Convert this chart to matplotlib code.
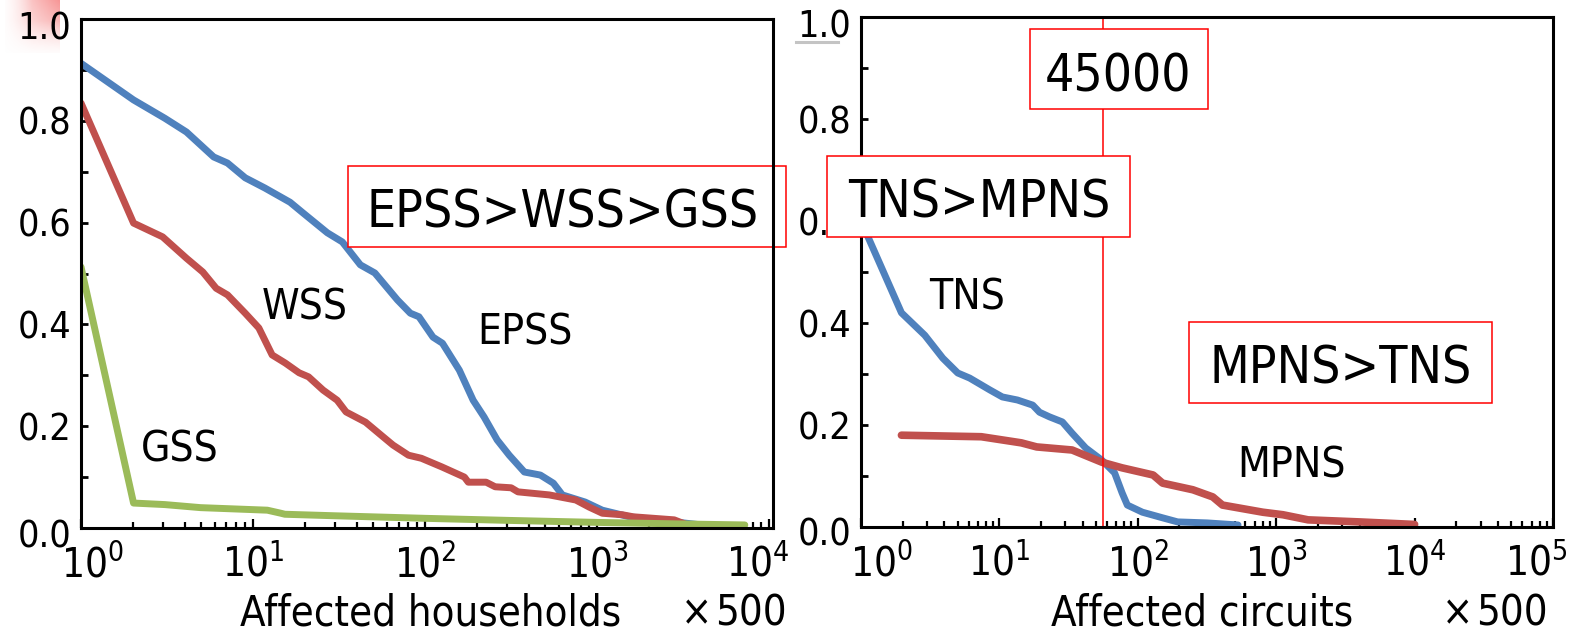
import numpy as np
import matplotlib
matplotlib.use("Agg")
import matplotlib.pyplot as plt
import matplotlib.transforms as mtrans
from matplotlib import font_manager as fm
from matplotlib.patches import Rectangle
from matplotlib.lines import Line2D
from matplotlib.ticker import LogLocator, NullFormatter, FixedLocator

# ---------------- data ----------------
epss_x = [1, 2.02, 3.07, 4.1, 5.9, 7.1, 9, 11.7, 16.4, 19.5, 27, 33, 42, 51, 69, 82, 92, 111,
          126, 158, 190, 220, 262, 308, 377, 467, 556, 627, 850, 1070, 1540, 3160, 5200]
epss_y = [.913, .841, .805, .778, .729, .717, .688, .668, .64, .619, .58, .562, .517, .501, .448,
          .422, .415, .375, .363, .31, .251, .218, .173, .143, .11, .104, .088, .065, .051, .035,
          .022, .01, .002]

wss_x = [1, 2.02, 2.98, 4.1, 5.1, 6.1, 7.1, 9, 10.8, 12.9, 15.4, 18.5, 21, 25.5, 30.8, 34.7, 45,
         57, 65, 80, 95, 125, 169, 178, 226, 255, 316, 346, 526, 750, 898, 1070, 1400, 1620,
         2800, 3400]
wss_y = [.835, .599, .572, .53, .503, .471, .458, .422, .393, .34, .324, .305, .297, .271, .251,
         .228, .208, .179, .163, .143, .137, .12, .1, .09, .09, .081, .079, .071, .065, .055,
         .041, .029, .026, .022, .016, .005]

gss_x = [1, 2.02, 3.07, 4.95, 12.1, 14.5, 15.3, 30, 100, 300, 1000, 3000, 7200]
gss_y = [.513, .049, .046, .04, .035, .029, .027, .024, .019, .015, .011, .008, .006]

tns_x = [1, 1.96, 2.89, 3.9, 5.0, 6.1, 8.5, 10.5, 13.5, 17.4, 19.5, 23, 28.5, 33.5, 42, 55, 68,
         77, 84, 108, 151, 194, 317, 530]
tns_y = [.60, .42, .376, .331, .302, .292, .269, .255, .249, .239, .225, .216, .206, .184, .155,
         .131, .106, .067, .043, .029, .018, .01, .008, .004]

mpns_x = [1.96, 7.4, 14.4, 18.6, 33.5, 55, 77, 129, 151, 250, 348, 409, 800, 1120, 1700, 3970,
          10000]
mpns_y = [.18, .177, .165, .157, .151, .127, .116, .102, .086, .073, .059, .043, .029, .024,
          .014, .01, .005]

threshold_x = 56

y_ticks = [0.0, 0.2, 0.4, 0.6, 0.8, 1.0]
y_tick_labels = ["0.0", "0.2", "0.4", "0.6", "0.8", "1.0"]
left_xticks = [1, 10, 100, 1000, 10000]
right_xticks = [1, 10, 100, 1000, 10000, 100000]
left_xtick_labels = [r"$\mathregular{10^{%d}}$" % e for e in range(5)]
right_xtick_labels = [r"$\mathregular{10^{%d}}$" % e for e in range(6)]

BLUE = "#4F81BD"
RED = "#C0504D"
GREEN = "#9BBB59"

# ---------------- fonts ----------------
entries = [(f.name, f.stretch) for f in fm.fontManager.ttflist]
if any(n == "DejaVu Sans Condensed" for n, s in entries):
    FAM, STR, K = "DejaVu Sans Condensed", "condensed", 1.0
elif any(n == "DejaVu Sans" and s == "condensed" for n, s in entries):
    FAM, STR, K = "DejaVu Sans", "condensed", 1.0
else:
    FAM, STR, K = "DejaVu Sans", "normal", 0.9
plt.rcParams["font.family"] = [FAM, "DejaVu Sans"]
plt.rcParams["font.stretch"] = STR

TICK = 27 * K
XTICK = 29 * K
AXL = 30 * K
SER = 30.5 * K
BOX = 37 * K

W, H = 1572, 631
fig = plt.figure(figsize=(W / 100, H / 100), dpi=100)


def fx(px):
    return px / W


def fy(py):
    return 1 - py / H


def shift(artist, dx, dy):
    artist.set_transform(artist.get_transform() +
                         mtrans.ScaledTranslation(dx / 100, -dy / 100, fig.dpi_scale_trans))


ax1 = fig.add_axes([fx(81), fy(528), fx(773) - fx(81), fy(19) - fy(528)])
ax2 = fig.add_axes([fx(861), fy(527), fx(1553) - fx(861), fy(17) - fy(527)])

lw = 5
kw = dict(solid_joinstyle="round", solid_capstyle="round")
ax1.plot(epss_x, epss_y, color=BLUE, lw=lw, zorder=2.1, **kw)
ax1.plot(wss_x, wss_y, color=RED, lw=lw, zorder=2.2, **kw)
ax1.plot(gss_x, gss_y, color=GREEN, lw=lw, zorder=2.3, **kw)

ax2.plot(tns_x, tns_y, color=BLUE, lw=lw, zorder=2.1, **kw)
ax2.plot(mpns_x, mpns_y, color=RED, lw=5.5, zorder=2.2, **kw)
ax2.axvline(threshold_x, color="#FF0000", lw=1.1, zorder=2.4)

for ax, xt, xl, xmax in [(ax1, left_xticks, left_xtick_labels, 1.05e4),
                         (ax2, right_xticks, right_xtick_labels, 1e5)]:
    ax.set_xscale("log")
    ax.set_xlim(1, xmax)
    ax.set_ylim(0, 1)
    ax.set_xticks(xt)
    ax.set_xticklabels(xl)
    ax.xaxis.set_minor_locator(LogLocator(base=10, subs=np.arange(2, 10), numticks=20))
    ax.xaxis.set_minor_formatter(NullFormatter())
    ax.set_yticks(y_ticks)
    ax.set_yticklabels(y_tick_labels)
    ax.yaxis.set_minor_locator(FixedLocator([0.1, 0.3, 0.5, 0.7, 0.9]))
    ax.tick_params(axis="both", which="both", direction="in", top=False, right=False, color="black")
    ax.tick_params(axis="x", which="major", length=6.5, width=1.6, pad=12.5, labelsize=XTICK)
    ax.tick_params(axis="x", which="minor", length=4.5, width=1.6)
    ax.tick_params(axis="y", which="major", length=5, width=2, pad=7, labelsize=TICK)
    ax.tick_params(axis="y", which="minor", length=5, width=2)
    for sp in ax.spines.values():
        sp.set_linewidth(2.2)
        sp.set_color("black")

# series labels (data coordinates)
ax1.text(20, 0.41, "WSS", fontsize=SER, ha="center", va="baseline")
ax1.text(380, 0.36, "EPSS", fontsize=SER, ha="center", va="baseline")
ax1.text(3.77, 0.13, "GSS", fontsize=SER, ha="center", va="baseline")
ax2.text(5.8, 0.426, "TNS", fontsize=SER, ha="center", va="baseline")
ax2.text(1282, 0.098, "MPNS", fontsize=SER, ha="center", va="baseline")

# axis labels
fig.text(fx(431), fy(625), "Affected households", fontsize=AXL, ha="center", va="baseline")
fig.text(fx(1202), fy(625), "Affected circuits", fontsize=AXL, ha="center", va="baseline")
for cx_times, cx_num in [(697, 751), (1458, 1512)]:
    fig.text(fx(cx_times), fy(625), "×", fontsize=AXL, ha="center", va="baseline")
    fig.text(fx(cx_num), fy(625), "500", fontsize=AXL, ha="center", va="baseline")


def box(x0, y0, x1, y1, text, tx, base, on_fig=True):
    r = Rectangle((fx(x0), fy(y1)), fx(x1) - fx(x0), fy(y0) - fy(y1), transform=fig.transFigure,
                  facecolor="white", edgecolor="#FF0000", lw=1.1, zorder=2.45 if not on_fig else 5,
                  clip_on=False)
    if on_fig:
        fig.add_artist(r)
    else:
        ax1.add_artist(r)
    fig.text(fx(tx), fy(base), text, fontsize=BOX, ha="center", va="baseline", zorder=6)


box(348, 166, 786, 247, "EPSS>WSS>GSS", 563, 227, on_fig=False)
box(1030, 29, 1208, 109, "45000", 1118, 91)
box(827, 156, 1130, 237, "TNS>MPNS", 979, 217)
box(1189, 322, 1492, 403, "MPNS>TNS", 1341, 383)

# edge tick labels nudged inward like the reference
lt = ax1.xaxis.get_major_ticks()
shift(lt[0].label1, 11, 0)
shift(lt[-1].label1, -12, 0)
rt = ax2.xaxis.get_major_ticks()
shift(rt[0].label1, 20, 0)
shift(rt[-1].label1, -17, 0)
for ax in (ax1, ax2):
    yt = ax.yaxis.get_major_ticks()
    shift(yt[0].label1, 0, 5)
    shift(yt[-1].label1, 0, 7)

# selection artifacts near the "1.0" labels
pink = fig.add_axes([fx(5), fy(53), fx(59) - fx(5), fy(0) - fy(53)], zorder=-1)
gx = np.linspace(0, 1, 60)[None, :]
gy = np.linspace(1, 0, 55)[:, None]
alpha = np.clip(0.15 + 0.75 * gx * gy + 0.1 * gx, 0, 1) * np.clip(gx * 1.6 + 0.2, 0, 1) * np.clip(gy * 1.4 + 0.15, 0, 1)
img = np.zeros((55, 60, 4))
img[..., 0] = 0.96
img[..., 1] = 0.45
img[..., 2] = 0.45
img[..., 3] = alpha * 0.75
pink.imshow(img, aspect="auto", interpolation="bilinear")
pink.axis("off")
fig.add_artist(Line2D([fx(796), fx(838)], [fy(41.5), fy(41.5)], color="#c4c4c4", lw=2.2, zorder=-1))

fig.savefig("out.png", dpi=100)
